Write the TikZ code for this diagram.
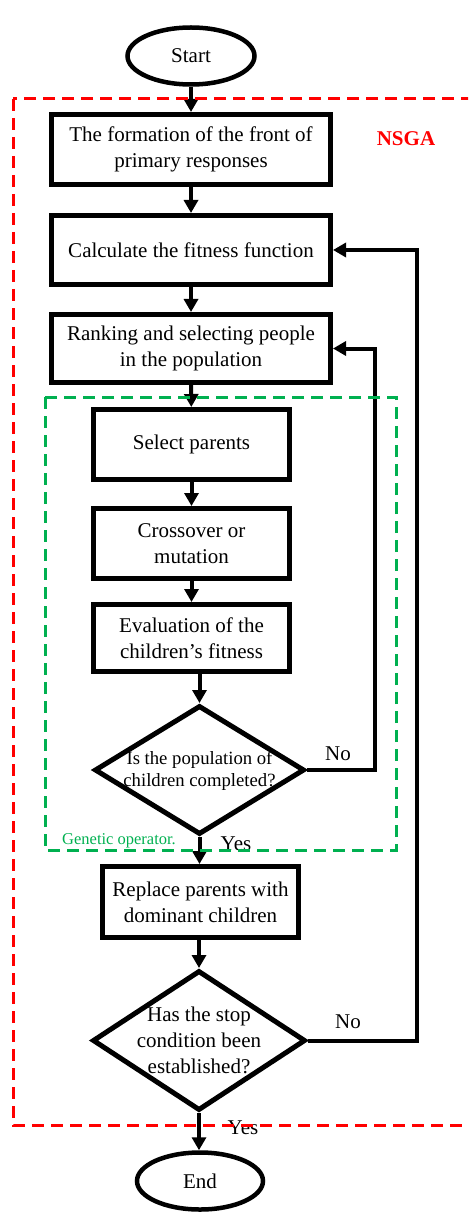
\documentclass[tikz,border=0pt]{standalone}
\usepackage{fontspec}
\setmainfont{Liberation Serif}
\usetikzlibrary{shapes.geometric,arrows.meta,calc}
\definecolor{nsgared}{RGB}{255,0,0}
\definecolor{gopgreen}{RGB}{0,176,80}
\begin{document}
\begin{tikzpicture}[x=1pt,y=-1pt,
  every node/.style={font=\fontsize{21}{26}\selectfont},
  procbox/.style={draw,line width=5pt,fill=white,rectangle,align=center,inner sep=1pt},
  termbox/.style={draw,line width=4.5pt,fill=white,ellipse,inner sep=0pt,minimum width=127pt,minimum height=57pt},
  decbox/.style={draw,line width=5pt,fill=white,diamond,inner sep=0pt},
  dectext/.style={align=center,inner sep=0pt},
  flowarrow/.style={line width=4pt,-{Triangle[width=14pt,length=13pt]}},
  groupbox/.style={line width=3pt,dash pattern=on 12pt off 7pt},
  lbl/.style={inner sep=0pt,anchor=base}]
\useasboundingbox (0,0) rectangle (468,1214);
\clip (0,0) rectangle (468,1214);

\node[termbox] (start) at (191,56) {Start};
\node[procbox,minimum width=279pt,minimum height=70pt] (b1) at (191,149.5) {The formation of the front of\\primary responses};
\node[procbox,minimum width=279pt,minimum height=69pt] (b2) at (191,250) {Calculate the fitness function};
\node[procbox,minimum width=279pt,minimum height=68pt] (b3) at (191,348.5) {Ranking and selecting people\\in the population};
\node[procbox,minimum width=196pt,minimum height=70pt] (sp) at (191.5,444.5) {Select parents};
\node[procbox,minimum width=196pt,minimum height=70pt] (co) at (191.5,543.5) {Crossover or\\mutation};
\node[procbox,minimum width=196pt,minimum height=67pt] (ev) at (191.5,638) {Evaluation of the\\children's fitness};
\node[decbox,minimum width=210pt,minimum height=129pt] (d1) at (199.5,770) {};
\node[dectext,font=\fontsize{18.7}{22}\selectfont] (d1t) at (199.5,771) {Is the population of\\children completed?};
\node[procbox,minimum width=196pt,minimum height=71pt] (rp) at (200.5,902) {Replace parents with\\dominant children};
\node[decbox,minimum width=213pt,minimum height=140pt] (d2) at (199,1040.5) {};
\node[dectext] (d2t) at (199,1040.5) {Has the stop\\condition been\\established?};
\node[termbox,minimum width=126pt] (end) at (200,1181) {End};

\draw[flowarrow] (start) -- (b1);
\draw[flowarrow] (b1) -- (b2);
\draw[flowarrow] (b2) -- (b3);
\draw[flowarrow] (b3) -- (sp);
\draw[flowarrow] (sp) -- (co);
\draw[flowarrow] (co) -- (ev);
\draw[flowarrow] (ev.south -| d1.north) -- (d1.north);
\draw[flowarrow] (d1.south) -- (d1.south |- rp.north);
\draw[flowarrow] (rp.south -| d2.north) -- (d2.north);
\draw[flowarrow] (d2.south) -- (d2.south |- end.north);

\coordinate (loop1) at (375,770);
\coordinate (loop2) at (417,1040.5);
\draw[flowarrow] (d1.east) -- (loop1) |- (b3.east);
\draw[flowarrow] (d2.east) -- (loop2) |- (b2.east);

\node[lbl] (no1) at (338,760) {No};
\node[lbl] (no2) at (348,1028) {No};
\node[lbl] (yes1) at (236,850) {Yes};
\node[lbl] (yes2) at (243,1134) {Yes};

\draw[groupbox,draw=nsgared] (13,99) rectangle (490,1125);
\draw[groupbox,draw=gopgreen] (45,397) rectangle (396,850);
\node[lbl,text=nsgared,font=\fontsize{21}{24}\selectfont\bfseries] (nsga) at (406,146) {NSGA};
\node[lbl,text=gopgreen,font=\fontsize{16.5}{19}\selectfont,anchor=base west] (gop) at (62,844) {Genetic operator.};
\end{tikzpicture}
\end{document}
